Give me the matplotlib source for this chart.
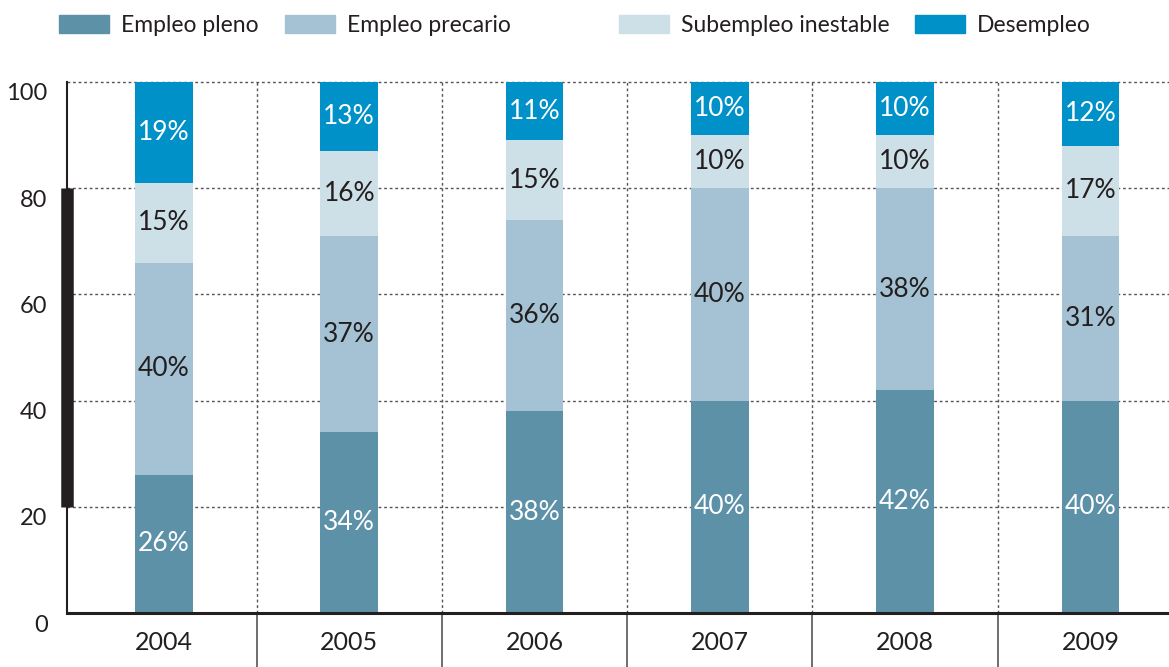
import matplotlib.pyplot as plt
import matplotlib.transforms as mtransforms
from matplotlib.patches import Rectangle
import numpy as np

plt.rcParams['font.family'] = ['Lato', 'DejaVu Sans']

years = ['2004', '2005', '2006', '2007', '2008', '2009']
pleno = [26, 34, 38, 40, 42, 40]
precario = [40, 37, 36, 40, 38, 31]
subempleo = [15, 16, 15, 10, 10, 17]
desempleo = [19, 13, 11, 10, 10, 12]

series = ['Empleo pleno', 'Empleo precario', 'Subempleo inestable', 'Desempleo']
colors = ['#5d91a8', '#a4c2d3', '#cddfe7', '#0091c9']
label_colors = ['white', '#231f20', '#231f20', 'white']
dark = '#231f20'

W, H = 1169, 667
fig = plt.figure(figsize=(W / 100, H / 100), dpi=100)
ax = fig.add_axes([67 / W, 1 - 613 / H, 1 - 67 / W, (613 - 82) / H])

x = np.arange(len(years))
bottom = np.zeros(len(years))
for vals, c, tc in zip([pleno, precario, subempleo, desempleo], colors, label_colors):
    vals = np.array(vals, dtype=float)
    ax.bar(x, vals, 0.31, bottom=bottom, color=c, zorder=2)
    for xi, b, v in zip(x, bottom, vals):
        ax.text(xi, b + v / 2, f'{int(v)}%', ha='center', va='center',
                color=tc, fontsize=19, zorder=3)
    bottom += vals

ax.set_xlim(-0.523, 5.424)
ax.set_ylim(0, 100)

# grid
for y in [20, 40, 60, 80, 100]:
    ax.axhline(y, color='#555555', lw=1, ls=(0, (2, 2)), zorder=1, clip_on=False)
for k in range(len(years) - 1):
    ax.plot([k + 0.5, k + 0.5], [0, 100], color='#555555', lw=1, ls=(0, (2, 2)), zorder=1, clip_on=False)

# separators below the axis
trans = mtransforms.blended_transform_factory(ax.transData, fig.transFigure)
for k in range(len(years) - 1):
    ax.plot([k + 0.5, k + 0.5], [1 - 613 / H, 0], color='#555555', lw=1.2,
            transform=trans, clip_on=False)

for s in ['top', 'right']:
    ax.spines[s].set_visible(False)
ax.spines['left'].set_color(dark)
ax.spines['left'].set_linewidth(1.5)
ax.spines['bottom'].set_color(dark)
ax.spines['bottom'].set_linewidth(2.2)
ax.spines['bottom'].set_zorder(4)

# thick bar on the left axis
ax.plot([0, 0], [20, 80], color=dark, lw=9, solid_capstyle='butt',
        transform=mtransforms.blended_transform_factory(ax.transAxes, ax.transData),
        clip_on=False, zorder=5)

ax.set_yticks([0, 20, 40, 60, 80, 100])
ax.set_yticklabels(['0', '20', '40', '60', '80', '100'])
ax.tick_params(axis='y', length=0, pad=14, labelsize=17, labelcolor=dark)
offset = mtransforms.ScaledTranslation(0, -10 / 100, fig.dpi_scale_trans)
for lab in ax.get_yticklabels():
    lab.set_transform(lab.get_transform() + offset)

ax.set_xticks(x)
ax.set_xticklabels(years)
ax.tick_params(axis='x', length=0, pad=13, labelsize=18, labelcolor=dark)

# legend
legend_x = [59, 285, 619, 915]
for lx, name, c in zip(legend_x, series, colors):
    fig.patches.append(Rectangle((lx / W, 1 - 33 / H), 50 / W, 18 / H,
                                 transform=fig.transFigure, color=c))
    fig.text((lx + 62) / W, 1 - 25 / H, name, ha='left', va='center',
             fontsize=16.5, color=dark)

fig.savefig('out.png', dpi=100)
